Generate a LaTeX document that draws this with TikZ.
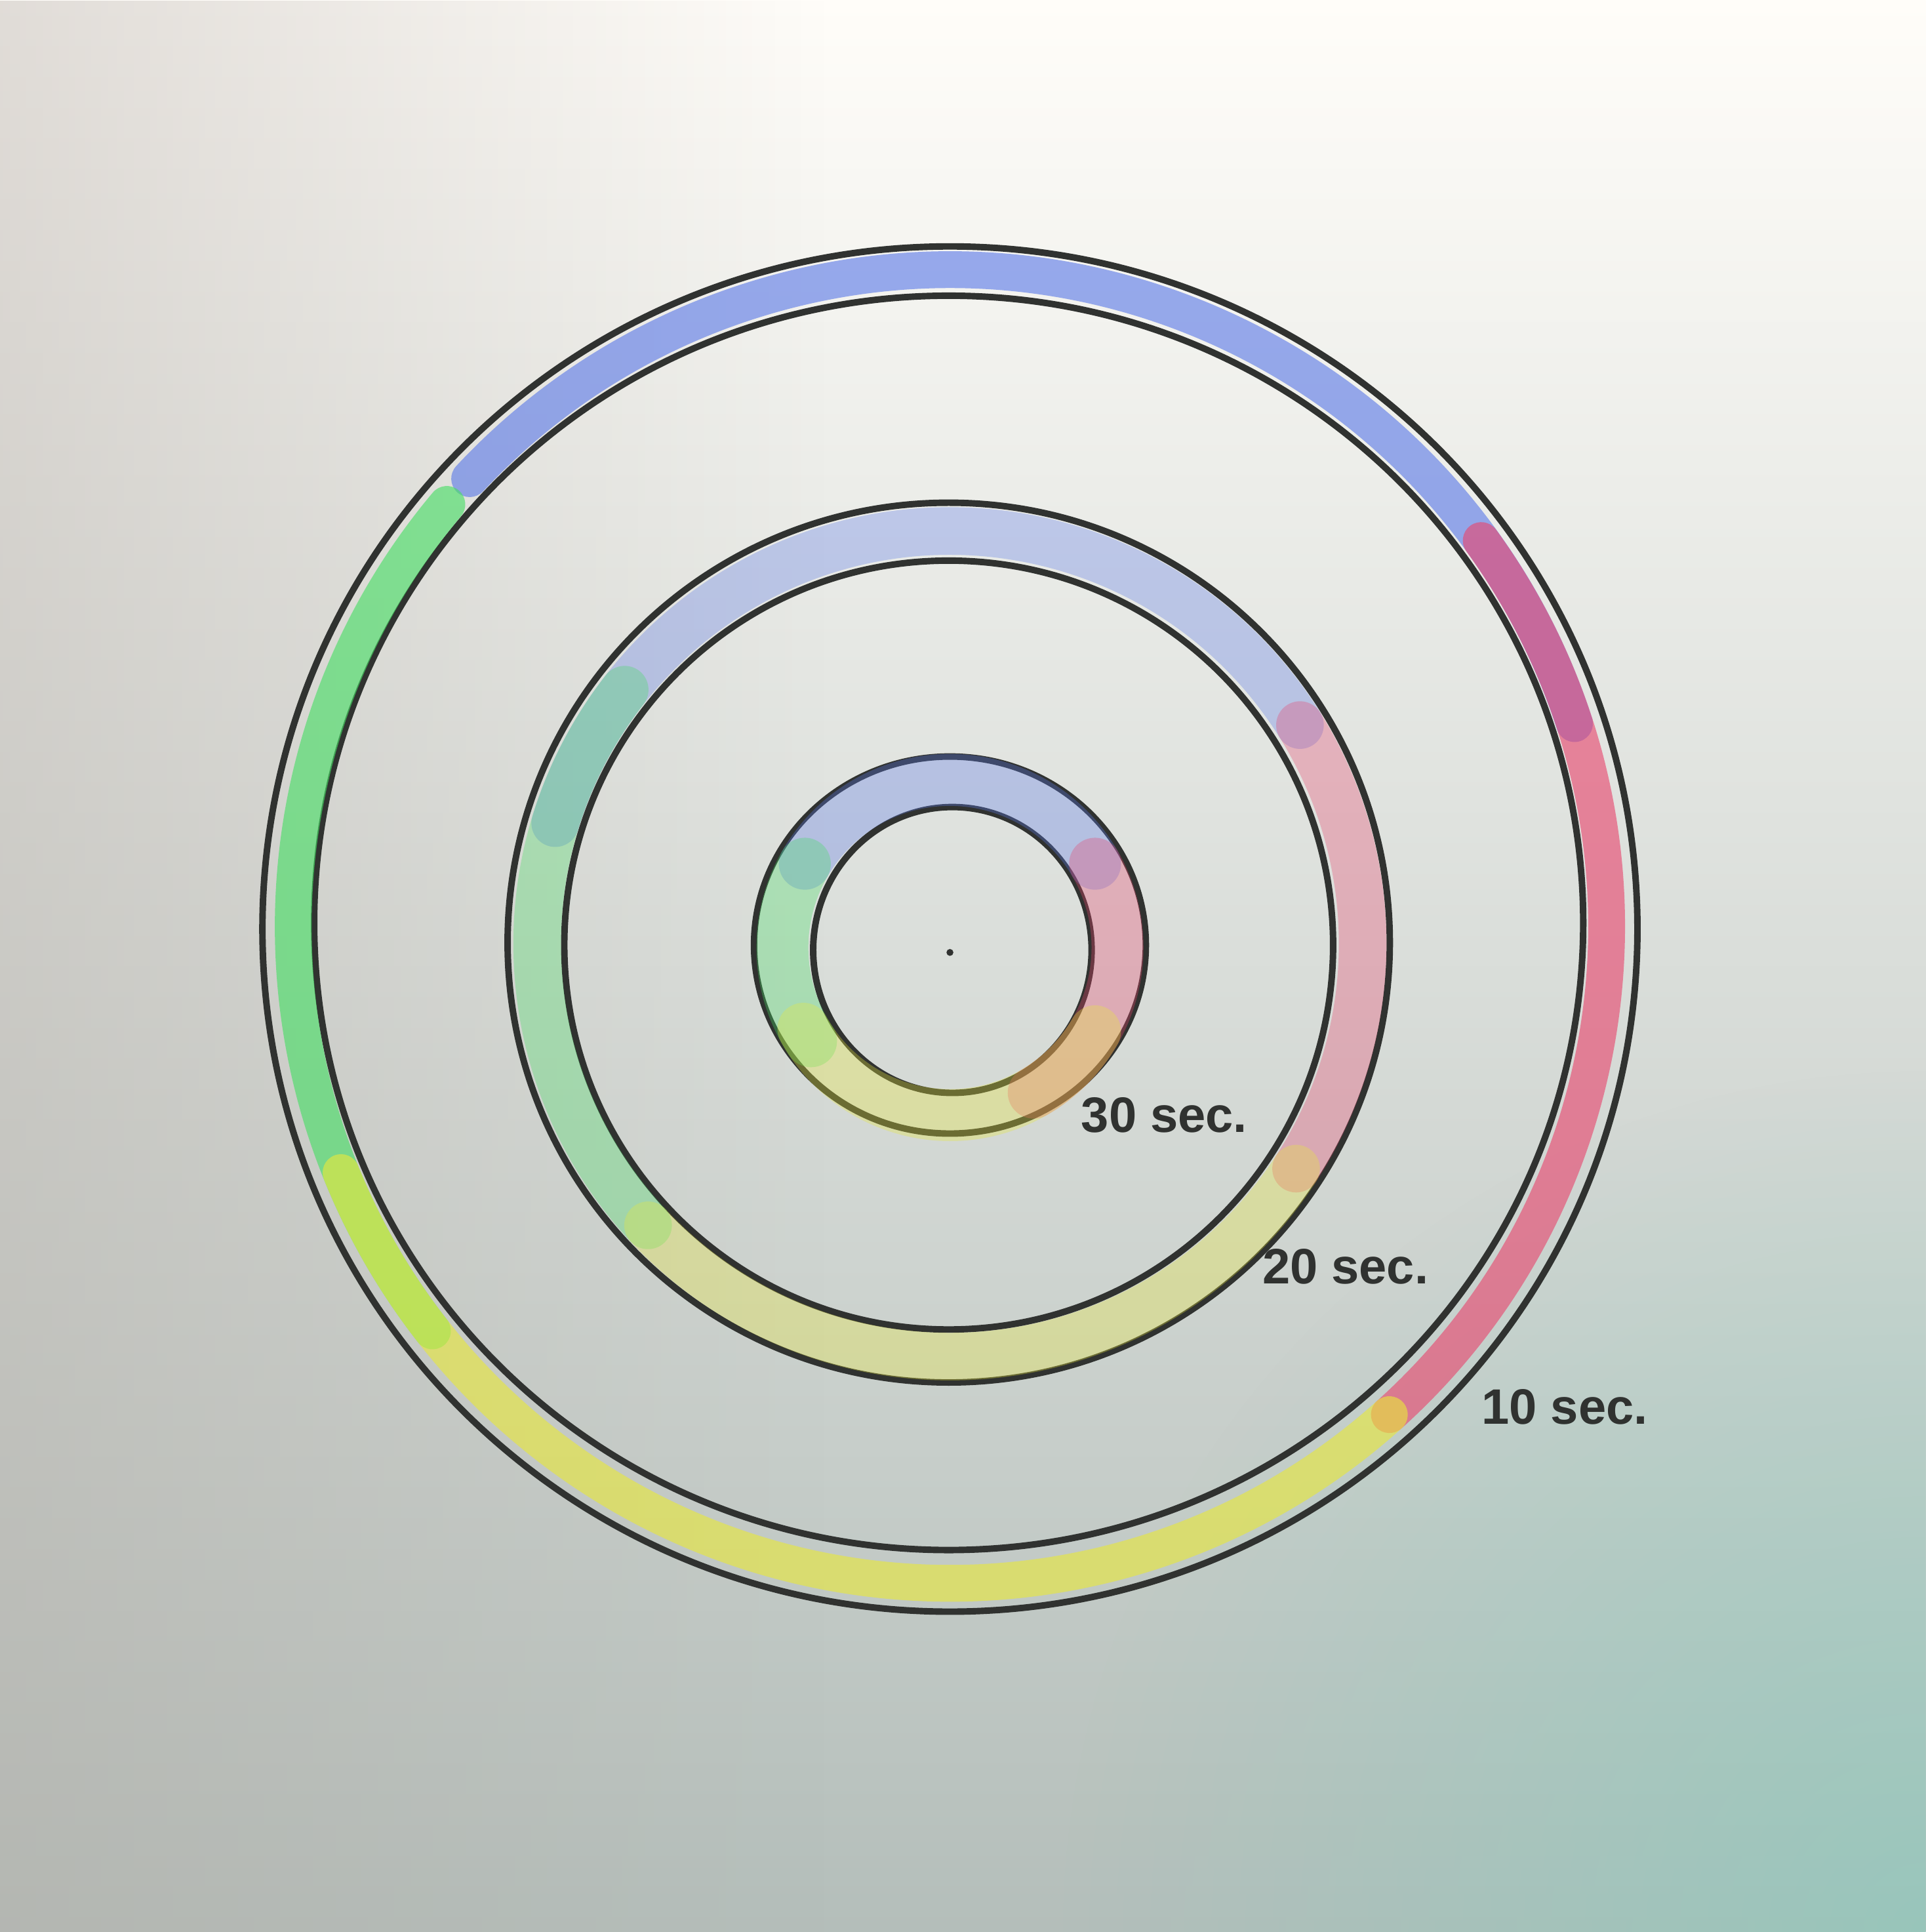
\documentclass[tikz,border=0pt]{standalone}
\usepackage{fontspec}
\setmainfont{Liberation Sans}
\usetikzlibrary{fadings}
\tikzfading[name=leftwash,left color=transparent!0,right color=transparent!100]
\tikzfading[name=cornerwash,inner color=transparent!0,outer color=transparent!100]
\definecolor{paperTop}{RGB}{255,253,249}
\definecolor{paperMid}{RGB}{249,247,243}
\definecolor{paperBot}{RGB}{180,190,186}
\definecolor{paperLeft}{RGB}{180,172,166}
\definecolor{paperTeal}{RGB}{125,205,188}
\definecolor{ink}{RGB}{48,50,48}
\definecolor{bandblue}{RGB}{92,122,232}
\definecolor{bandred}{RGB}{232,70,110}
\definecolor{bandyellow}{RGB}{232,232,60}
\definecolor{bandgreen}{RGB}{70,222,100}
\begin{document}
\begin{tikzpicture}[line width=1.4pt,
  ring/.style={draw=ink,line width=1.5pt},
  band/.style={line cap=round,line width=8.5pt,draw opacity=0.62},
  softband/.style={line cap=round,line width=11pt,draw opacity=0.32},
  label/.style={font=\fontsize{11.5}{13}\selectfont\bfseries,text=ink}]
 \useasboundingbox (-7.71,-8.06) rectangle (7.92,7.62);
 % paper
 \begin{scope}
  \clip (-7.71,-8.06) rectangle (7.92,7.62);
  \shade[top color=paperTop,middle color=paperMid,bottom color=paperBot]
    (-7.71,-8.06) rectangle (7.92,7.62);
  \fill[paperLeft,path fading=leftwash,fill opacity=0.4] (-7.71,-8.06) rectangle (-1,7.62);
  \fill[paperTeal,path fading=cornerwash,fill opacity=0.5] (7.92,-8.06) circle (7);
 \end{scope}
 % ring centres
 \coordinate (c1) at (0,0.10); \coordinate (c2) at (0,-0.04); \coordinate (c3) at (0,-0.07);
 % outer ring
 \draw[ring] (0,0.08) ellipse[x radius=5.58,y radius=5.54];
 \draw[ring] (-0.01,0.13) ellipse[x radius=5.15,y radius=5.09];
 % middle ring
 \draw[ring] (-0.01,-0.03) ellipse[x radius=3.58,y radius=3.57];
 \draw[ring] (-0.01,-0.05) ellipse[x radius=3.12,y radius=3.12];
 % inner ring
 \draw[ring] (0,-0.05) ellipse[x radius=1.59,y radius=1.53];
 \draw[ring] (0.02,-0.09) ellipse[x radius=1.13,y radius=1.16];
 \fill[ink] (0,-0.11) circle (0.8pt);
 % coloured bands
 \foreach \col/\a/\b in {bandblue/18/137,bandred/-48/36,bandgreen/140/218,bandyellow/202/312}
   \draw[band,draw=\col] ([shift={(\a:5.33)}]c1) arc[start angle=\a,end angle=\b,radius=5.33];
 \foreach \col/\a/\b in {bandblue/32/163,bandred/-33/32,bandgreen/142/223,bandyellow/223/327}
   \draw[softband,draw=\col] ([shift={(\a:3.35)}]c2) arc[start angle=\a,end angle=\b,radius=3.35];
 \foreach \col/\a/\b in {bandblue/30/150,bandred/-60/30,bandgreen/150/214,bandyellow/209/330}
   \draw[softband,line width=12pt,draw=\col] ([shift={(\a:1.36)}]c3) arc[start angle=\a,end angle=\b,radius=1.36];
 % labels
 \node[label] (t30) at (1.74,-1.43) {30 sec.};
 \node[label] (t20) at (3.21,-2.66) {20 sec.};
 \node[label] (t10) at (4.99,-3.80) {10 sec.};
\end{tikzpicture}
\end{document}
